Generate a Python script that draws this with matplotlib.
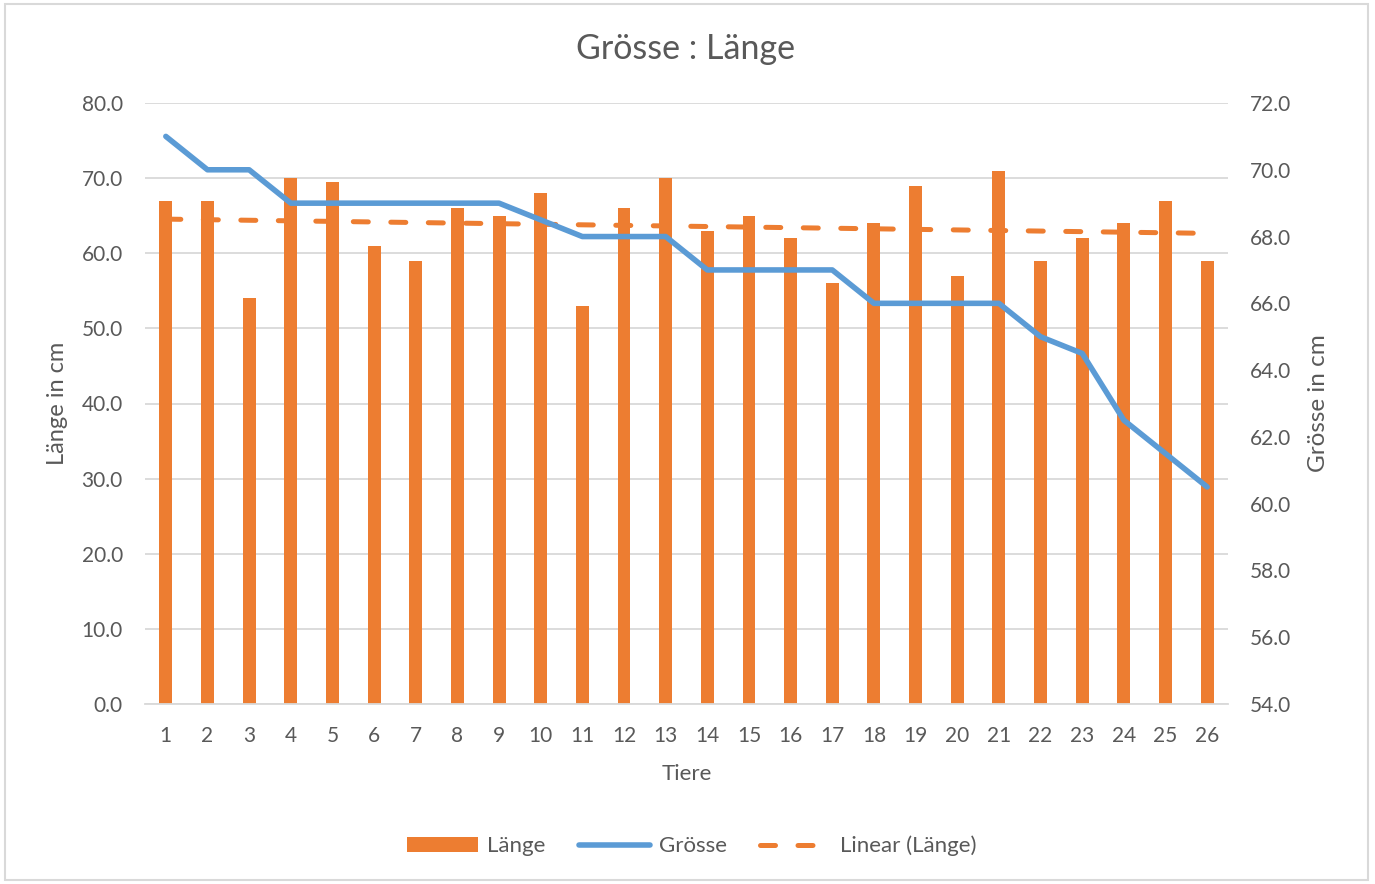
import numpy as np
import matplotlib.pyplot as plt
from matplotlib.patches import Rectangle

plt.rcParams['font.family'] = ['Lato', 'DejaVu Sans']

# data
tiere = list(range(1, 27))
laenge = [67, 67, 54, 70, 69.5, 61, 59, 66, 65, 68, 53, 66, 70,
          63, 65, 62, 56, 64, 69, 57, 71, 59, 62, 64, 67, 59]
groesse = [71, 70, 70, 69, 69, 69, 69, 69, 69, 68.5, 68, 68, 68,
           67, 67, 67, 67, 66, 66, 66, 66, 65, 64.5, 62.5, 61.5, 60.5]

orange = "#ED7D31"
blue = "#5B9BD5"
grey_text = "#595959"
grid_col = "#D9D9D9"

fig = plt.figure(figsize=(13.75, 8.84), dpi=100)
ax = fig.add_axes([145/1375, 1 - 704/884, (1228-145)/1375, (704-103)/884])
ax2 = ax.twinx()

x = np.array(tiere)
ax.bar(x, laenge, width=0.31, color=orange, zorder=2, label="Länge")

# linear trendline of Länge
k, d = np.polyfit(x, laenge, 1)
trend = k * x + d
ax.plot(x, trend, color=orange, lw=3.6, ls=(0, (3, 4.5)),
        dash_capstyle='round', zorder=3, label="Linear (Länge)")

ax2.plot(x, groesse, color=blue, lw=4, solid_capstyle='round',
         solid_joinstyle='round', zorder=4, label="Grösse")

ax.set_xlim(0.5, 26.5)
ax.set_ylim(0, 80)
ax2.set_ylim(54, 72)
ax.set_yticks(np.arange(0, 81, 10))
ax2.set_yticks(np.arange(54, 73, 2))
ax.set_yticklabels([f"{v:.1f}" for v in np.arange(0, 81, 10)])
ax2.set_yticklabels([f"{v:.1f}" for v in np.arange(54, 73, 2)])
ax.set_xticks(x)
ax.set_xticklabels([str(t) for t in tiere])

ax.yaxis.grid(True, color=grid_col, lw=1.3, zorder=0)
ax.set_axisbelow(True)
for a in (ax, ax2):
    for s in a.spines.values():
        s.set_visible(False)
    a.tick_params(length=0, labelsize=15, colors=grey_text)
ax.spines['bottom'].set_visible(True)
ax.spines['bottom'].set_color(grid_col)
ax.spines['bottom'].set_linewidth(1.3)
ax.tick_params(axis='y', pad=16)
ax.tick_params(axis='x', pad=16)
ax2.tick_params(axis='y', pad=16)

ax.set_ylabel("Länge in cm", fontsize=17, color=grey_text, labelpad=10)
ax2.set_ylabel("Grösse in cm", fontsize=17.5, color=grey_text, labelpad=12)
ax.set_xlabel("Tiere", fontsize=16, color=grey_text, labelpad=13)

fig.text(686/1375, 1 - 49/884, "Grösse : Länge", fontsize=24.5, color=grey_text,
         ha='center', va='center')

# legend
h1, l1 = ax.get_legend_handles_labels()
h2, l2 = ax2.get_legend_handles_labels()
handles = [h1[1], h2[0], h1[0]]
labels = [l1[1], l2[0], l1[0]]
fig.legend(handles, labels, loc='center', bbox_to_anchor=(692/1375, 1 - 846/884),
           ncol=3, frameon=False, fontsize=16, handlelength=3.2,
           columnspacing=1.5, handletextpad=0.4, labelcolor=grey_text)

# chart border
fig.patches.append(Rectangle((5/1375, 4/884), 1363/1375, 876/884,
                             transform=fig.transFigure, fill=False,
                             edgecolor="#D9D9D9", lw=1.5))

fig.savefig("out.png", dpi=100)
